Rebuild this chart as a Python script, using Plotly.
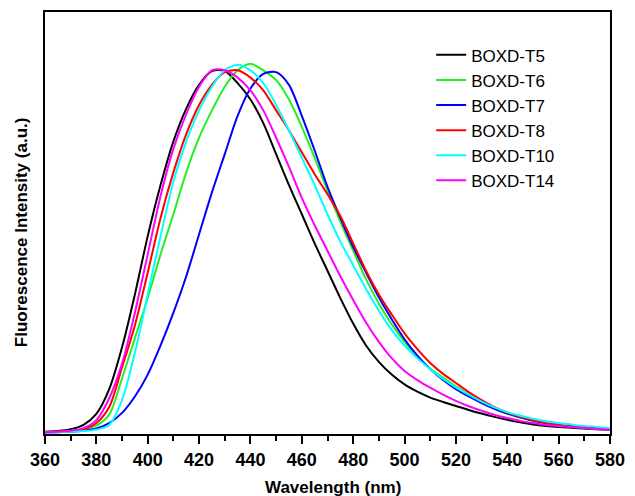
import plotly.graph_objects as go

wavelength = list(range(360, 585, 5))

t5 = [0.003, 0.005, 0.010, 0.022, 0.052, 0.12, 0.235, 0.38, 0.54, 0.68, 0.80, 0.89, 0.955, 0.993,
      0.993, 0.96, 0.915, 0.85, 0.765, 0.68, 0.60, 0.52, 0.445, 0.37, 0.3, 0.24, 0.195, 0.16,
      0.133, 0.113, 0.097, 0.085, 0.074, 0.063, 0.053, 0.044, 0.036, 0.029, 0.023, 0.019, 0.016,
      0.014, 0.012, 0.010, 0.008]
t6 = [0.002, 0.003, 0.005, 0.01, 0.02, 0.05, 0.15, 0.26, 0.37, 0.49, 0.60, 0.715, 0.81, 0.885,
      0.95, 0.995, 1.013, 0.995, 0.968, 0.915, 0.84, 0.755, 0.665, 0.58, 0.5, 0.422, 0.355, 0.298,
      0.25, 0.21, 0.177, 0.152, 0.128, 0.105, 0.085, 0.067, 0.053, 0.042, 0.033, 0.026, 0.021,
      0.017, 0.014, 0.011, 0.009]
t7 = [0.001, 0.002, 0.003, 0.006, 0.012, 0.027, 0.055, 0.10, 0.16, 0.24, 0.33, 0.43, 0.545, 0.66,
      0.765, 0.87, 0.945, 0.985, 0.99, 0.955, 0.87, 0.775, 0.675, 0.59, 0.51, 0.44, 0.372, 0.312,
      0.257, 0.212, 0.175, 0.145, 0.12, 0.10, 0.082, 0.066, 0.053, 0.043, 0.034, 0.027, 0.022,
      0.018, 0.015, 0.012, 0.01]
t8 = [0.002, 0.003, 0.005, 0.01, 0.027, 0.071, 0.18, 0.295, 0.44, 0.59, 0.715, 0.82, 0.90, 0.955,
      0.99, 0.995, 0.975, 0.94, 0.885, 0.83, 0.77, 0.71, 0.655, 0.595, 0.52, 0.445, 0.38, 0.325,
      0.273, 0.23, 0.192, 0.162, 0.137, 0.112, 0.09, 0.071, 0.056, 0.044, 0.035, 0.028, 0.022,
      0.018, 0.015, 0.012, 0.01]
t10 = [0.001, 0.002, 0.003, 0.005, 0.009, 0.022, 0.09, 0.22, 0.38, 0.54, 0.69, 0.80, 0.885, 0.95,
       0.995, 1.01, 0.995, 0.96, 0.90, 0.83, 0.755, 0.68, 0.60, 0.525, 0.46, 0.395, 0.335, 0.282,
       0.24, 0.205, 0.175, 0.148, 0.125, 0.105, 0.086, 0.07, 0.057, 0.047, 0.039, 0.032, 0.027,
       0.023, 0.019, 0.016, 0.013]
t14 = [0.002, 0.003, 0.006, 0.013, 0.035, 0.095, 0.19, 0.33, 0.49, 0.65, 0.78, 0.875, 0.95, 0.995,
       0.995, 0.975, 0.94, 0.885, 0.81, 0.73, 0.645, 0.57, 0.50, 0.43, 0.365, 0.303, 0.25, 0.205,
       0.17, 0.145, 0.124, 0.105, 0.088, 0.073, 0.061, 0.05, 0.041, 0.033, 0.027, 0.022, 0.019,
       0.016, 0.014, 0.011, 0.009]

names = ["BOXD-T5", "BOXD-T6", "BOXD-T7", "BOXD-T8", "BOXD-T10", "BOXD-T14"]
series = [t5, t6, t7, t8, t10, t14]
colors = ["#000000", "#22ee22", "#0000ff", "#ff0000", "#00ffff", "#ff00ff"]
tick_vals = list(range(360, 600, 20))
x_title = "Wavelength (nm)"
y_title = "Fluorescence Intensity (a.u.)"

FONT = "Arial, Liberation Sans, sans-serif"

fig = go.Figure()
for name, ys, col in zip(names, series, colors):
    fig.add_trace(go.Scatter(x=wavelength, y=ys, mode="lines", name=name,
                             legendgroup=name,
                             line=dict(color=col, width=2, shape="spline", smoothing=0.8)))

fig.update_layout(
    width=635, height=496,
    margin=dict(l=45, r=18, t=10, b=62),
    paper_bgcolor="white", plot_bgcolor="white",
    font=dict(family=FONT, color="black"),
    legend=dict(x=0.6835, y=0.94, xanchor="left", yanchor="top",
                font=dict(size=17, family=FONT), tracegroupgap=0,
                bgcolor="rgba(0,0,0,0)"),
    annotations=[
        dict(text=f"<b>{x_title}</b>", xref="paper", yref="paper", x=0.5105, y=-0.127,
             xanchor="center", yanchor="middle", showarrow=False,
             font=dict(size=17, family=FONT)),
        dict(text=f"<b>{y_title}</b>", xref="paper", yref="paper", x=-0.0402, y=0.479,
             xanchor="center", yanchor="middle", showarrow=False, textangle=-90,
             font=dict(size=17, family=FONT)),
    ],
)
fig.update_xaxes(range=[360, 580], tickvals=tick_vals,
                 ticktext=[f"<b>{v}</b>" for v in tick_vals],
                 ticks="outside", ticklen=8, tickwidth=1.5, tickcolor="black",
                 minor=dict(dtick=10, ticks="outside", ticklen=5, tickwidth=1.5, tickcolor="black"),
                 showline=True, linecolor="black", linewidth=2, mirror=True,
                 showgrid=False, zeroline=False,
                 tickfont=dict(size=18, family=FONT))
fig.update_yaxes(range=[-0.003, 1.155], showticklabels=False, ticks="",
                 showline=True, linecolor="black", linewidth=2, mirror=True,
                 showgrid=False, zeroline=False)

fig.write_html("out.html")
